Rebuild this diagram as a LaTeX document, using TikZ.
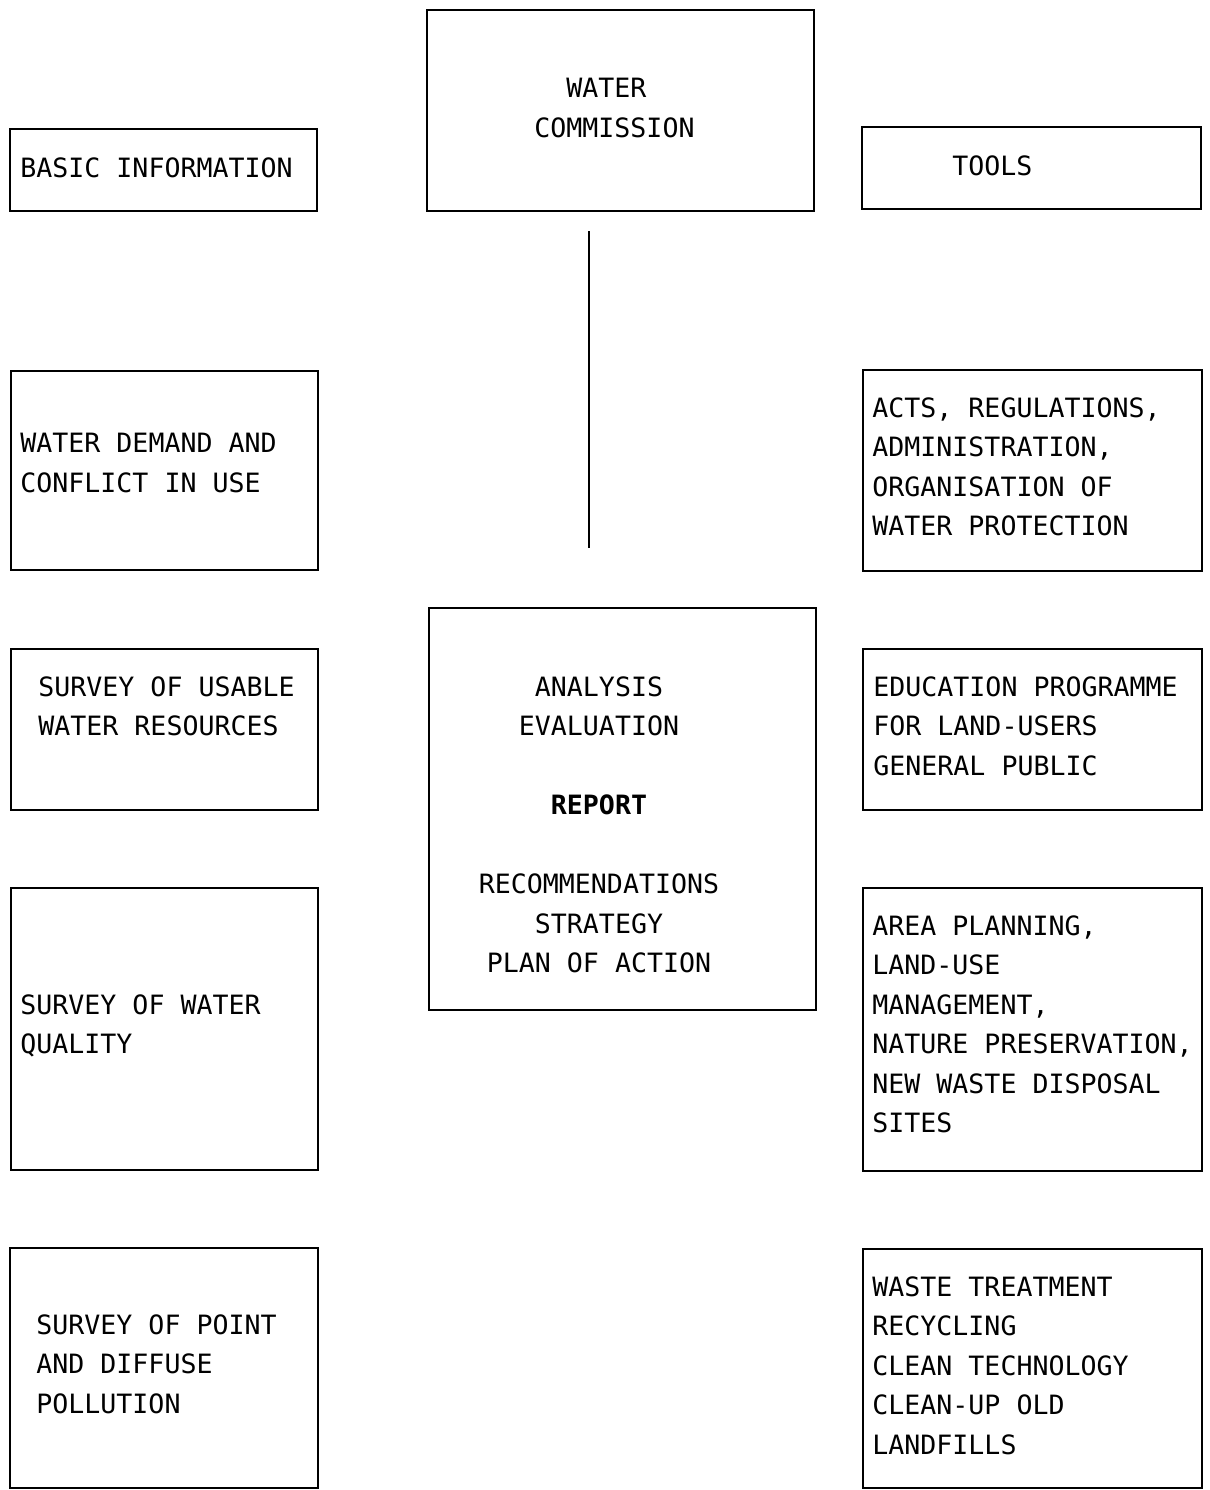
\documentclass[tikz,border=0pt]{standalone}
\usepackage{fontspec}
\newfontfamily\monofam{DejaVu Sans Mono}
\usetikzlibrary{fit}
\begin{document}
\begin{tikzpicture}[x=0.5pt,y=-0.5pt,
  box/.style={draw=black, line width=1pt, inner sep=0pt, rectangle},
  txt/.style={anchor=north west, inner sep=0pt, align=left, text=black,
    font=\monofam\fontsize{13.3}{19.75}\selectfont},
  ctxt/.style={anchor=north, inner sep=0pt, align=center, text=black,
    font=\monofam\fontsize{13.3}{19.75}\selectfont}]
\useasboundingbox (0,0) rectangle (1210,1490);
\fill[white] (0,0) rectangle (1210,1490);

% boxes
\node[box, fit={(427,10)(814,211)}] (wc) {};
\node[box, fit={(10,129)(317,211)}] (bi) {};
\node[box, fit={(862,127)(1201,209)}] (tools) {};
\node[box, fit={(11,371)(318,570)}] (demand) {};
\node[box, fit={(863,370)(1202,571)}] (acts) {};
\node[box, fit={(11,649)(318,810)}] (usable) {};
\node[box, fit={(429,608)(816,1010)}] (anal) {};
\node[box, fit={(863,649)(1202,810)}] (edu) {};
\node[box, fit={(11,888)(318,1170)}] (quality) {};
\node[box, fit={(863,888)(1202,1171)}] (area) {};
\node[box, fit={(10,1248)(318,1488)}] (point) {};
\node[box, fit={(863,1249)(1202,1488)}] (waste) {};

% texts
\node[txt] (twc) at (534,78) {\hphantom{XX}WATER\\COMMISSION};
\node[txt] (tbi) at (20,157) {BASIC INFORMATION};
\node[txt] (ttools) at (952,155) {TOOLS};
\node[txt] (tdemand) at (20,433) {WATER DEMAND AND\\CONFLICT IN USE};
\node[txt] (tacts) at (872,397) {ACTS, REGULATIONS,\\ADMINISTRATION,\\ORGANISATION OF\\WATER PROTECTION};
\node[txt] (tusable) at (38,676) {SURVEY OF USABLE\\WATER RESOURCES};
\node[ctxt] (tanal) at (599,676) {ANALYSIS\\EVALUATION\\[19.75pt]{\bfseries REPORT}\\[19.75pt]RECOMMENDATIONS\\STRATEGY\\PLAN OF ACTION};
\node[txt] (tedu) at (873,676) {EDUCATION PROGRAMME\\FOR LAND-USERS\\GENERAL PUBLIC};
\node[txt] (tquality) at (20,994) {SURVEY OF WATER\\QUALITY};
\node[txt] (tarea) at (872,915) {AREA PLANNING,\\LAND-USE\\MANAGEMENT,\\NATURE PRESERVATION,\\NEW WASTE DISPOSAL\\SITES};
\node[txt] (tpoint) at (36,1314) {SURVEY OF POINT\\AND DIFFUSE\\POLLUTION};
\node[txt] (twaste) at (872,1276) {WASTE TREATMENT\\RECYCLING\\CLEAN TECHNOLOGY\\CLEAN-UP OLD\\LANDFILLS};

% vertical line
\coordinate (lt) at (589,231);
\coordinate (lb) at (589,548);
\draw[line width=1pt] (lt) -- (lb);
\end{tikzpicture}
\end{document}
